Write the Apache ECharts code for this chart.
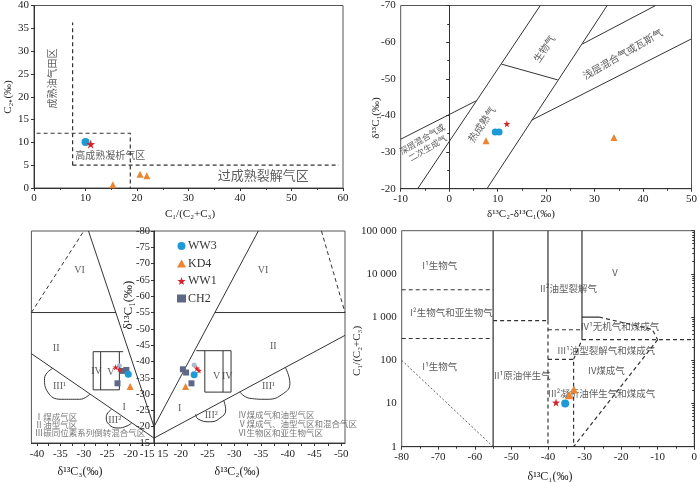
<!DOCTYPE html>
<html>
<head>
<meta charset="utf-8" />
<title>天然气成因判识图版</title>
<script src="https://cdn.jsdelivr.net/npm/echarts@6/dist/echarts.min.js"></script>
<style>body{margin:0;background:#fff}#main{width:700px;height:482px}</style>
</head>
<body>
<div id="main"></div>
<script type="text/javascript">
// ---------- sample points ----------
// (a) C1/(C2+C3) vs C2+
var ww3A = [[10.0, 10.1]];
var ww1A = [[11.0, 9.6]];
var kd4A = [[15.3, 0.7], [20.6, 3.0], [21.9, 2.7]];
// (b) d13C2-d13C1 vs d13C1
var ww3B = [[9.5, -35.5], [10.3, -35.5]];
var ww1B = [[11.9, -37.7]];
var kd4B = [[7.6, -33.1], [34.0, -34.0]];
// (c) left half: d13C3 vs d13C1
var ww3C3 = [[-20.5, -36.1]];
var paleC3 = [[-22.4, -38.7]];
var ww1C3 = [[-23.2, -38.2], [-22.4, -37.6]];
var ch2C3 = [[-21.7, -37.1], [-20.9, -37.4], [-22.8, -33.3]];
var kd4C3 = [[-20.1, -32.3]];
// (c) right half: d13C2 vs d13C1
var ww3C2 = [[-22.5, -35.9]];
var paleC2 = [[-22.5, -38.9]];
var ww1C2 = [[-23.0, -37.9], [-23.4, -37.2]];
var ch2C2 = [[-20.4, -37.6], [-21.0, -36.6], [-22.0, -33.3]];
var kd4C2 = [[-20.9, -32.3]];
// (d) d13C1 vs C1/(C2+C3)
var ww1D = [[-37.8, 10.5]];
var ww3D = [[-35.3, 10.0]];
var kd4D = [[-34.2, 15.6], [-32.9, 21.0]];

// ---------- tick labels ----------
var tickC3 = [-40, -37.5, -35, -32.5, -30, -27.5, -25, -22.5, -20, -17.5, -15];
var labC3 = [-40, -35, -30, -25, -20, -15];
var tickC2 = [-15, -17.5, -20, -22.5, -25, -27.5, -30, -32.5, -35, -37.5, -40, -42.5, -45, -47.5, -50];
var labC2 = [-20, -25, -30, -35, -40, -45, -50];
var labD = ['1', '10', '100', '1 000', '10 000', '100 000'];

// ---------- region boundaries ----------
var dashA = [
    [[7.5, 5], [7.5, 36.3]],
    [[0.5, 12], [18.7, 12], [18.7, 0]],
    [[7.5, 5], [59.2, 5]]
];
var solidB = [
    [[-6.5, -20], [18.8, -70]],
    [[7.8, -20], [32.6, -70]],
    [[27.5, -59.5], [42.6, -70]],
    [[17.0, -38.7], [50, -60.9]],
    [[-10, -33.5], [5.6, -44]],
    [[10.8, -54], [22.4, -49.7]]
];
var solidC3 = [
    [[-29, -80], [-15, -20]],
    [[-41.2, -42.4], [-15, -16.5]],
    [[-41.2, -55], [-23.1, -55]],
    [[-28, -43], [-21.6, -43]],
    [[-28, -43], [-28, -31.3], [-22.4, -31.3], [-22.4, -43]],
    [[-26.4, -43], [-26.4, -31.3]]
];
var dashC3 = [[[-41.2, -55], [-30, -80]]];
var curveC3 = [
    [[-36.6, -37.9], [-38.4, -34.8], [-37.7, -30.6], [-34.8, -28.4], [-30.9, -28.4], [-28.7, -30]],
    [[-24.1, -25.3], [-25.2, -23], [-24.7, -20.8], [-22.7, -19.6], [-20.8, -20.2], [-19.8, -21.1]]
];
var solidC2 = [
    [[-15, -20], [-34.5, -80]],
    [[-15, -16.5], [-50.7, -48]],
    [[-26.4, -55], [-50.7, -55]],
    [[-22.9, -43.3], [-29.4, -43.3]],
    [[-24.5, -43.3], [-24.5, -30.6], [-29.4, -30.6], [-29.4, -43.3]],
    [[-27.9, -43.3], [-27.9, -30.6]]
];
var dashC2 = [[[-46.3, -80], [-50.7, -55]]];
var curveC2 = [
    [[-31.0, -30.7], [-32.9, -28.7], [-36.1, -28.4], [-39.2, -30.2], [-40.4, -33.3], [-39.5, -38.3]],
    [[-22.8, -23.8], [-23.2, -22.4], [-25.4, -21.5], [-27.3, -22.6], [-28.4, -25.1], [-28.0, -28.2]]
];
var solidD = [
    [[-55, 1], [-55, 100000]],
    [[-40, 830], [-40, 100000]],
    [[-30.7, 300], [-30.7, 100000]],
    [[-30.7, 1000], [-26, 1000]]
];
var dashD = [
    [[-80, 4300], [-55, 4300]],
    [[-80, 320], [-55, 320]],
    [[-55, 830], [-40, 830]],
    [[-40, 830], [-40, 1]],
    [[-40, 510], [-30.7, 510]],
    [[-40, 105], [-33, 105], [-33, 1]],
    [[-33, 105], [-30.7, 300]],
    [[-30.7, 300], [0, 300]],
    [[-26, 1000], [-11.5, 520], [-10, 300]],
    [[-10, 300], [-33, 1]]
];
var thinD = [[[-80, 100], [-55, 1]]];

// ---------- region labels [x, y, text, rotate] ----------
var textA = [[3.5, 24, '成熟油气田区', 90], [14.8, 7.1, '高成熟凝析气区', 0]];
var bigTextA = [[44.5, 2.8, '过成熟裂解气区', 0]];
var textB = [
    [19.6, -58.2, '生物气', 56],
    [35.8, -56.8, '浅层混合气或瓦斯气', 30],
    [6.7, -37.6, '热成熟气', 56]
];
var smallTextB = [[-5.0, -32.3, '深层混合气或\n二次生成气', 31]];
var romanC3 = [[-30.9, -67.8, 'VI'], [-35.9, -44, 'II'], [-35.2, -32.3, 'III¹'], [-27.3, -36.9, 'IV'],
    [-24.2, -36.6, 'V'], [-23.4, -22, 'III²'], [-21.4, -25.8, 'I']];
var romanC2 = [[-35.4, -68, 'VI'], [-37.3, -44.5, 'II'], [-26.7, -35.3, 'V'], [-28.7, -35.3, 'IV'],
    [-36.4, -32.3, 'III¹'], [-25.7, -23.6, 'III²'], [-19.8, -25.6, 'I']];
var noteC3 = [[-40.5, -23, 'Ⅰ煤成气区'], [-40.5, -20.5, 'Ⅱ油型气区'], [-40.5, -18, 'Ⅲ碳同位素系列倒转混合气区']];
var noteC2 = [[-30.7, -23.8, 'Ⅳ煤成气和油型气区'], [-30.7, -21, 'Ⅴ煤成气、油型气区和混合气区'], [-30.7, -18, 'Ⅵ生物区和亚生物气区']];
var textD = [
    [-69.6, 15500, 'I¹生物气'],
    [-66.4, 1260, 'I²生物气和亚生物气'],
    [-69.6, 72, 'I¹生物气'],
    [-34.4, 4700, 'II²油型裂解气'],
    [-21.7, 11000, 'V'],
    [-47, 45, 'II¹原油伴生气'],
    [-20.3, 620, 'IV¹无机气和煤成气'],
    [-24, 170, 'III¹油型裂解气和煤成气'],
    [-24, 59, 'IV煤成气'],
    [-25.3, 17, 'III²凝析油伴生气和煤成气']
];

var SERIF = '"Liberation Serif", "Times New Roman", serif';
var CJK = '"Noto Sans CJK SC", sans-serif';
var C_WW3 = '#1b9ad6', C_KD4 = '#ec8430', C_WW1 = '#d2232a', C_CH2 = '#5c6886';
var STAR = 'path://M50,0L61.8,35.1L98.5,35.4L69,57.3L79.4,92.7L50,71.3L20.6,92.7L31,57.3L1.5,35.4L38.2,35.1Z';

var myChart = echarts.init(document.getElementById('main'));
var series = [];

function addLines(g, list, type, width, smooth) {
    list.forEach(function (d) {
        series.push({
            type: 'line', xAxisIndex: g, yAxisIndex: g, data: d, symbol: 'none', silent: true,
            smooth: smooth ? 0.5 : false, z: 2,
            lineStyle: { color: '#333', width: width, type: type }
        });
    });
}
function addText(g, list, size, font, color, pos) {
    series.push({
        type: 'scatter', xAxisIndex: g, yAxisIndex: g, symbolSize: 0, silent: true, z: 3,
        data: list.map(function (t) {
            return { value: [t[0], t[1]], label: { formatter: t[2], rotate: t[3] || 0 } };
        }),
        label: { show: true, position: pos || 'inside', distance: 0, fontSize: size, fontFamily: font, color: color, lineHeight: size + 2 }
    });
}
function addPts(g, name, data, symbol, color, size) {
    series.push({
        name: name, type: 'scatter', xAxisIndex: g, yAxisIndex: g, data: data, symbol: symbol,
        symbolSize: size, z: 5, itemStyle: { color: color, opacity: 1 }
    });
}

// (a)
addLines(0, dashA, [4, 3], 1.2);
addText(0, textA, 10, CJK, '#333');
addText(0, bigTextA, 13, CJK, '#333');
addPts(0, 'WW3', ww3A, 'circle', C_WW3, 8);
addPts(0, 'KD4', kd4A, 'triangle', C_KD4, 7);
addPts(0, 'WW1', ww1A, STAR, C_WW1, 9);
// (b)
addLines(1, solidB, 'solid', 1);
addText(1, textB, 10, CJK, '#333');
addText(1, smallTextB, 8.5, CJK, '#333');
addPts(1, 'WW3', ww3B, 'circle', C_WW3, 7);
addPts(1, 'KD4', kd4B, 'triangle', C_KD4, 7);
addPts(1, 'WW1', ww1B, STAR, C_WW1, 7);
// (c) left
addLines(2, solidC3, 'solid', 1);
addLines(2, dashC3, [4, 3], 1);
addLines(2, curveC3, 'solid', 1, true);
addText(2, romanC3, 10, SERIF, '#333');
addText(2, noteC3, 8.5, CJK, '#555', 'right');
addPts(2, 'CH2', ch2C3, 'rect', C_CH2, 6);
addPts(2, 'KD4', kd4C3, 'triangle', C_KD4, 7);
addPts(2, 'WW3', ww3C3, 'circle', C_WW3, 7);
addPts(2, '', paleC3, 'circle', '#a9bccf', 5);
addPts(2, 'WW1', ww1C3, STAR, C_WW1, 6);
// (c) right
addLines(3, solidC2, 'solid', 1);
addLines(3, dashC2, [4, 3], 1);
addLines(3, curveC2, 'solid', 1, true);
addText(3, romanC2, 10, SERIF, '#333');
addText(3, noteC2, 8.5, CJK, '#555', 'right');
addPts(3, 'CH2', ch2C2, 'rect', C_CH2, 6);
addPts(3, 'KD4', kd4C2, 'triangle', C_KD4, 7);
addPts(3, 'WW3', ww3C2, 'circle', C_WW3, 7);
addPts(3, '', paleC2, 'circle', '#a9bccf', 5);
addPts(3, 'WW1', ww1C2, STAR, C_WW1, 6);
// (d)
addLines(4, solidD, 'solid', 1.2);
addLines(4, dashD, [4, 3], 1.2);
addLines(4, thinD, [2, 2], 0.8);
addText(4, textD, 9.5, CJK, '#333');
addPts(4, 'WW1', ww1D, STAR, C_WW1, 8);
addPts(4, 'WW3', ww3D, 'circle', C_WW3, 8);
addPts(4, 'KD4', kd4D, 'triangle', C_KD4, 8);

var axLine = { lineStyle: { color: '#333', width: 1 } };
var axTick = { length: 3, lineStyle: { color: '#333' } };
var axLab = { fontFamily: SERIF, fontSize: 11, color: '#222', margin: 5 };
var minor = { show: true, splitNumber: 2, length: 2, lineStyle: { color: '#333' } };
function frame(l, t, w, h) {
    return { left: l, top: t, width: w, height: h, show: true, borderColor: '#555', borderWidth: 1, containLabel: false };
}
function nameText(x, y, text, rot, size) {
    return {
        type: 'text', x: x, y: y, rotation: rot ? Math.PI / 2 : 0,
        style: { text: text, font: (size || 11) + 'px ' + SERIF, fill: '#222', textAlign: 'center', textVerticalAlign: 'middle' }
    };
}

myChart.setOption({
    animation: false,
    legend: {
        orient: 'vertical', left: 172, top: 235, itemWidth: 9, itemHeight: 8, itemGap: 5.5,
        data: ['WW3', 'KD4', 'WW1', 'CH2'],
        textStyle: { fontFamily: SERIF, fontSize: 12, color: '#333', padding: [0, 0, 0, -3] }
    },
    grid: [
        frame(34, 3, 309, 185),
        frame(400.7, 2.7, 296, 186),
        frame(31.4, 231, 122.6, 212),
        frame(154, 231, 191, 212),
        frame(401.7, 230.7, 295, 216)
    ],
    xAxis: [
        { gridIndex: 0, type: 'value', min: 0, max: 60, interval: 10, splitLine: { show: false },
          axisLine: axLine, axisTick: axTick, minorTick: minor, axisLabel: axLab },
        { gridIndex: 1, type: 'value', min: -10, max: 50, interval: 10, splitLine: { show: false },
          axisLine: axLine, axisTick: axTick, minorTick: minor, axisLabel: axLab },
        { gridIndex: 2, type: 'value', min: -41.2, max: -15, splitLine: { show: false }, axisLine: axLine,
          axisTick: { length: 3, lineStyle: { color: '#333' }, customValues: tickC3 },
          axisLabel: { fontFamily: SERIF, fontSize: 11, color: '#222', margin: 6, customValues: labC3,
              showMinLabel: true, showMaxLabel: true, hideOverlap: false,
              formatter: function (v) { return v === -15 ? '-15 15' : String(v); } } },
        { gridIndex: 3, type: 'value', min: -50.7, max: -15, inverse: true, splitLine: { show: false }, axisLine: axLine,
          axisTick: { length: 3, lineStyle: { color: '#333' }, customValues: tickC2 },
          axisLabel: { fontFamily: SERIF, fontSize: 11, color: '#222', margin: 6, customValues: labC2 } },
        { gridIndex: 4, type: 'value', min: -80, max: 0, interval: 10, splitLine: { show: false },
          axisLine: axLine, axisTick: axTick, minorTick: minor, axisLabel: axLab }
    ],
    yAxis: [
        { gridIndex: 0, type: 'value', min: 0, max: 40, interval: 5, splitLine: { show: false },
          axisLine: axLine, axisTick: axTick, axisLabel: axLab },
        { gridIndex: 1, type: 'value', min: -70, max: -20, interval: 10, inverse: true, splitLine: { show: false },
          axisLine: axLine, axisTick: axTick, minorTick: minor, axisLabel: axLab },
        { gridIndex: 2, type: 'value', min: -80, max: -15, inverse: true, show: false },
        { gridIndex: 3, type: 'value', min: -80, max: -15, interval: 5, inverse: true, position: 'left',
          splitLine: { show: false }, axisLine: axLine, axisTick: axTick,
          axisLabel: { fontFamily: SERIF, fontSize: 10.5, color: '#222', margin: 4 } },
        { gridIndex: 4, type: 'log', logBase: 10, min: 1, max: 100000, splitLine: { show: false },
          axisLine: axLine, axisTick: axTick,
          minorTick: { show: true, splitNumber: 9, length: 2, lineStyle: { color: '#333' } },
          axisLabel: { fontFamily: SERIF, fontSize: 11, color: '#222', margin: 5,
              formatter: function (v) { return labD[Math.round(Math.log10(v))]; } } }
    ],
    graphic: [
        nameText(190, 214, 'C₁/(C₂+C₃)'),
        nameText(8, 97, 'C₂₊(‰)', true),
        nameText(521, 214, 'δ¹³C₂-δ¹³C₁(‰)'),
        nameText(376, 118, 'δ¹³C₁(‰)', true),
        nameText(129, 305, 'δ¹³C₁(‰)', true, 13),
        nameText(80, 472, 'δ¹³C₃(‰)', false, 12),
        nameText(237, 472, 'δ¹³C₂(‰)', false, 12),
        nameText(357, 351, 'C₁/(C₂+C₃)', true),
        nameText(550, 477, 'δ¹³C₁(‰)', false, 12)
    ],
    series: series
});
</script>
</body>
</html>
